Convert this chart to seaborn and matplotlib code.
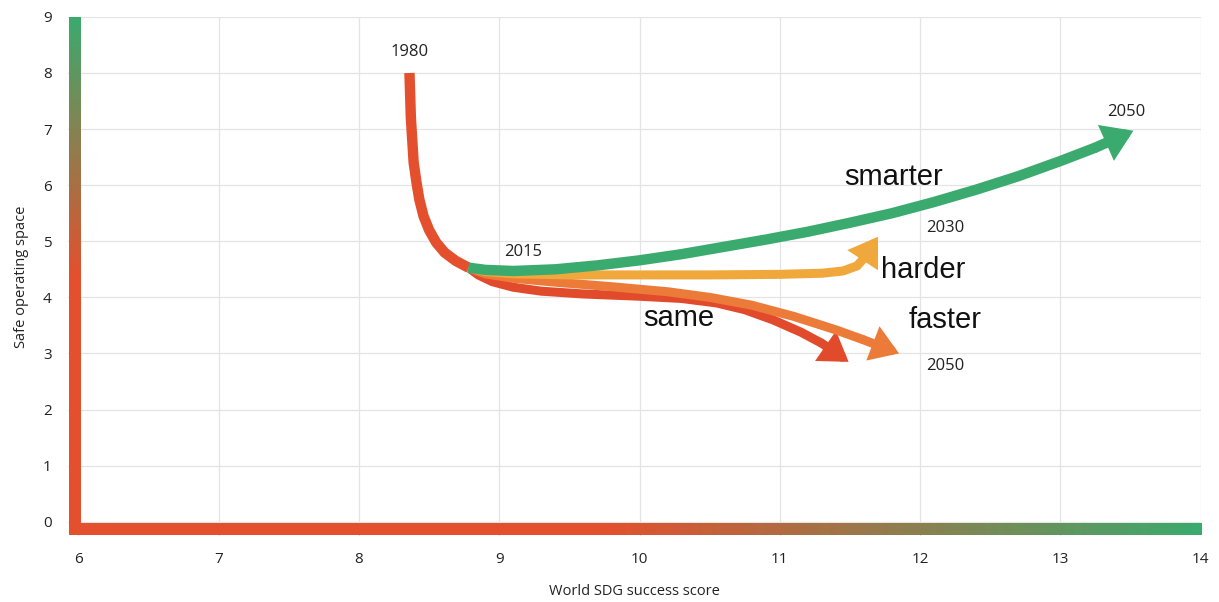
import numpy as np
import pandas as pd
import matplotlib.pyplot as plt
import seaborn as sns
from matplotlib.colors import LinearSegmentedColormap

# path: 1980 -> 2015
past_x = [8.36, 8.365, 8.37, 8.38, 8.39, 8.41, 8.43, 8.46, 8.50, 8.55, 8.61, 8.69, 8.78]
past_y = [8.00, 7.60, 7.20, 6.80, 6.40, 6.05, 5.75, 5.45, 5.20, 4.98, 4.80, 4.65, 4.53]

# scenarios 2015 -> 2050
same_x = [8.78, 8.85, 8.95, 9.10, 9.30, 9.60, 10.00, 10.30, 10.55, 10.75, 10.95, 11.15, 11.30, 11.49]
same_y = [4.53, 4.40, 4.28, 4.18, 4.11, 4.06, 4.02, 3.98, 3.90, 3.78, 3.60, 3.38, 3.18, 2.85]

faster_x = [8.78, 8.90, 9.10, 9.40, 9.80, 10.20, 10.50, 10.80, 11.10, 11.40, 11.60, 11.85]
faster_y = [4.53, 4.42, 4.34, 4.27, 4.19, 4.10, 4.00, 3.86, 3.66, 3.42, 3.24, 3.00]

harder_x = [8.78, 8.90, 9.10, 9.50, 10.00, 10.50, 11.00, 11.30, 11.45, 11.55, 11.60, 11.70]
harder_y = [4.53, 4.46, 4.42, 4.40, 4.40, 4.40, 4.41, 4.43, 4.47, 4.56, 4.70, 5.08]

smarter_x = [8.78, 8.90, 9.10, 9.40, 9.70, 10.00, 10.30, 10.60, 10.90, 11.20, 11.50,
             11.80, 12.10, 12.40, 12.70, 13.00, 13.25, 13.52]
smarter_y = [4.53, 4.49, 4.47, 4.50, 4.57, 4.66, 4.77, 4.90, 5.03, 5.17, 5.33,
             5.50, 5.70, 5.92, 6.16, 6.43, 6.67, 6.97]

colors = {"past": "#E4502E", "same": "#E24A2C", "faster": "#EC7B3A",
          "harder": "#F0A83C", "smarter": "#3BAA6E"}

x_ticks = [6, 7, 8, 9, 10, 11, 12, 13, 14]
y_ticks = [0, 1, 2, 3, 4, 5, 6, 7, 8, 9]

sns.set_theme(style="white")
plt.rcParams['font.family'] = ['Open Sans', 'DejaVu Sans']

fig = plt.figure(figsize=(12.19, 6.02), dpi=100)
ax = fig.add_axes([0.056, 0.110, 0.929, 0.862])

ax.set_xticks(x_ticks)
ax.set_yticks(y_ticks)
ax.grid(True, color="#E4E4E4", linewidth=0.9)
ax.set_axisbelow(True)
for s in ax.spines.values():
    s.set_visible(False)
ax.tick_params(length=0, labelsize=11, colors="#222222")
ax.tick_params(axis="x", pad=12)
ax.tick_params(axis="y", pad=12)

# gradient bars acting as axes
grad_v = np.linspace(0, 1, 256).reshape(-1, 1)
grad_h = np.linspace(0, 1, 256).reshape(1, -1)
vcmap = LinearSegmentedColormap.from_list("rgv", [(0, "#E4502E"), (0.5, "#E4502E"), (1, "#3BAA6E")])
hcmap = LinearSegmentedColormap.from_list("rgh", [(0, "#E4502E"), (0.47, "#E4502E"), (1, "#3BAA6E")])
ax.imshow(grad_v, cmap=vcmap, origin="lower", aspect="auto",
          extent=[5.93, 6.015, -0.23, 9.0], zorder=2)
ax.imshow(grad_h, cmap=hcmap, origin="lower", aspect="auto",
          extent=[5.93, 14.0, -0.23, -0.02], zorder=2)
ax.set_xlim(5.928, 14.0)
ax.set_ylim(-0.25, 9.0)


def draw(xs, ys, color, lw, arrow=True, z=3):
    d = pd.DataFrame({"x": xs, "y": ys})
    end = len(d) - 1 if arrow else len(d)
    sns.lineplot(data=d.iloc[:end], x="x", y="y", sort=False, color=color,
                 linewidth=lw, ax=ax, zorder=z, solid_capstyle="butt",
                 solid_joinstyle="round")
    if arrow:
        ax.annotate("", xy=(xs[-1], ys[-1]), xytext=(xs[-2], ys[-2]),
                    arrowprops=dict(arrowstyle="-|>,head_length=0.55,head_width=0.36",
                                    mutation_scale=20, color=color, lw=lw,
                                    shrinkA=0, shrinkB=0, joinstyle="miter"),
                    zorder=z)


draw(same_x, same_y, colors["same"], 6.5, z=3)
draw(faster_x, faster_y, colors["faster"], 6.5, z=4)
draw(harder_x, harder_y, colors["harder"], 6.5, z=5)
draw(smarter_x, smarter_y, colors["smarter"], 7.5, z=6)
draw(past_x, past_y, colors["past"], 7.5, arrow=False, z=5)

# year labels
yr = dict(fontsize=12, color="#222222", ha="center", va="center")
ax.text(8.36, 8.38, "1980", **yr)
ax.text(9.17, 4.80, "2015", **yr)
ax.text(12.18, 5.23, "2030", **yr)
ax.text(12.18, 2.77, "2050", **yr)
ax.text(13.47, 7.30, "2050", **yr)

big = dict(fontsize=21, color="#111111", ha="center", va="center",
           family=["Liberation Sans", "DejaVu Sans"])
ax.text(11.81, 6.14, "smarter", **big)
ax.text(12.02, 4.48, "harder", **big)
ax.text(12.18, 3.60, "faster", **big)
ax.text(10.28, 3.64, "same", **big)

ax.set_xlabel("World SDG success score", fontsize=10.5, color="#222222", labelpad=12)
ax.set_ylabel("Safe operating space", fontsize=10.5, color="#222222", labelpad=10)

fig.savefig("out.png", dpi=100)
